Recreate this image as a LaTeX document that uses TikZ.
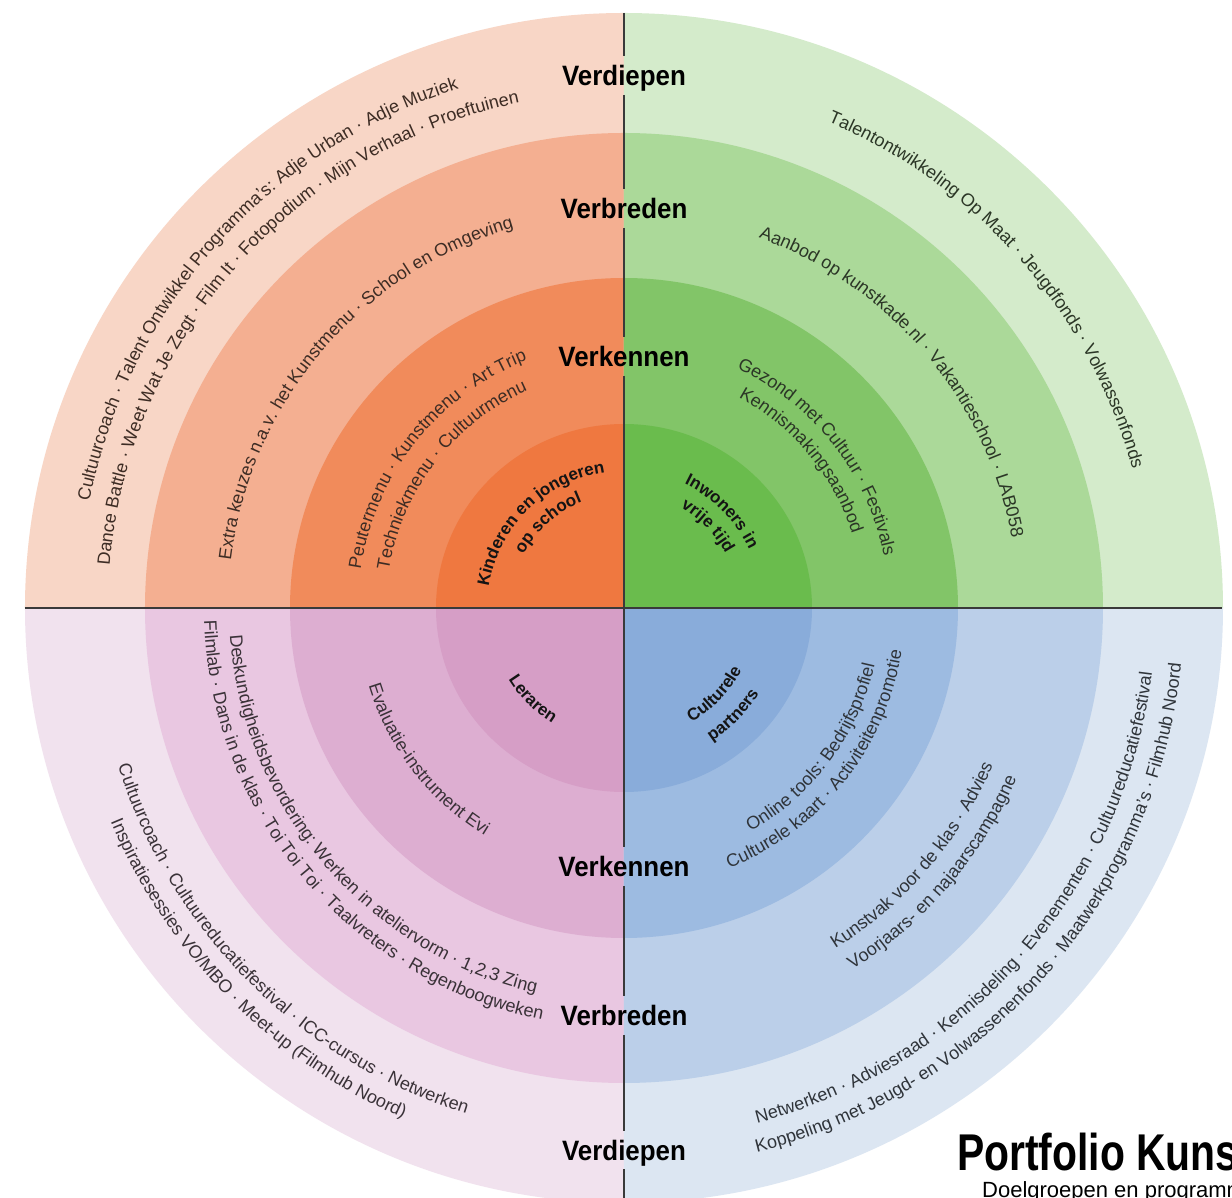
\documentclass[tikz,border=0pt]{standalone}
\usepackage{fontspec}
\setmainfont{Liberation Sans}
\newfontfamily\condfont[FakeStretch=0.925]{Liberation Sans}
\newfontfamily\titlecondfont[FakeStretch=0.79]{Liberation Sans}
\usetikzlibrary{decorations.text}

\definecolor{tlA}{HTML}{F8D6C6}\definecolor{tlB}{HTML}{F4AF91}\definecolor{tlC}{HTML}{F18B5B}\definecolor{tlD}{HTML}{EF7840}
\definecolor{trA}{HTML}{D4EBCB}\definecolor{trB}{HTML}{ABD999}\definecolor{trC}{HTML}{82C568}\definecolor{trD}{HTML}{6ABC4D}
\definecolor{blA}{HTML}{F1E2EE}\definecolor{blB}{HTML}{E9C7E1}\definecolor{blC}{HTML}{DDAED1}\definecolor{blD}{HTML}{D69EC6}
\definecolor{brA}{HTML}{DCE6F2}\definecolor{brB}{HTML}{BBCFE9}\definecolor{brC}{HTML}{9DBBE1}\definecolor{brD}{HTML}{89ACDA}
\definecolor{divline}{HTML}{3A3A3A}
\colorlet{txtTL}{black!75!tlB}
\colorlet{txtTR}{black!75!trB}
\colorlet{txtBL}{black!75!blB}
\colorlet{txtBR}{black!75!brB}
\colorlet{txtBold}{black!92}

\newcommand\rtxt{\fontsize{18}{20}\selectfont}
\newcommand\btxt{\fontsize{17}{20}\selectfont\bfseries}
\newcommand\labfont{\condfont\bfseries\fontsize{28}{30}\selectfont}

% clockwise arc text, tops outward: radius, centre angle, font, colour, text
\newcommand\cwline[5]{%
  \path[decorate,decoration={text along path,text align=center,text color=#4,text={|#3|#5}}]
    ({#2+50}:#1) arc[start angle={#2+50},end angle={#2-50},radius=#1];}
% counter-clockwise arc text, tops inward
\newcommand\ccwline[5]{%
  \path[decorate,decoration={text along path,text align=center,text color=#4,text={|#3|#5}}]
    ({#2-50}:#1) arc[start angle={#2-50},end angle={#2+50},radius=#1];}

\newcommand\ringquarter[6]{%
  \fill[#3] (0,0) -- (#1:599 and 595) arc[start angle=#1,end angle=#2,x radius=599,y radius=595] -- cycle;
  \fill[#4] (0,0) -- (#1:479 and 475) arc[start angle=#1,end angle=#2,x radius=479,y radius=475] -- cycle;
  \fill[#5] (0,0) -- (#1:334 and 330) arc[start angle=#1,end angle=#2,x radius=334,y radius=330] -- cycle;
  \fill[#6] (0,0) -- (#1:188 and 184) arc[start angle=#1,end angle=#2,x radius=188,y radius=184] -- cycle;}

\tikzset{
  lab/.style={font=\labfont,inner sep=0pt,outer xsep=0pt,outer ysep=9pt,text height=20.5pt,text depth=0pt,anchor=base,text=black},
  divider/.style={draw=divline,line width=1.5pt},
}

\begin{document}
\begin{tikzpicture}[x=1pt,y=1pt]
\useasboundingbox (-624,-590) rectangle (608,608);
\clip (-624,-590) rectangle (608,608);
\fill[white] (-624,-590) rectangle (608,608);

\ringquarter{90}{180}{tlA}{tlB}{tlC}{tlD}
\ringquarter{0}{90}{trA}{trB}{trC}{trD}
\ringquarter{180}{270}{blA}{blB}{blC}{blD}
\ringquarter{270}{360}{brA}{brB}{brC}{brD}

% top-left: Kinderen en jongeren op school
\cwline{545}{138.2}{\rtxt}{txtTL}{Cultuurcoach · Talent Ontwikkel Programma's: Adje Urban · Adje Muziek}
\cwline{516}{138.5}{\rtxt}{txtTL}{Dance Battle · Weet Wat Je Zegt · Film It · Fotopodium · Mijn Verhaal · Proeftuinen}
\cwline{396}{139.6}{\rtxt}{txtTL}{Extra keuzes n.a.v. het Kunstmenu · School en Omgeving}
\cwline{266}{141.5}{\rtxt}{txtTL}{Peutermenu · Kunstmenu · Art Trip}
\cwline{238}{142.4}{\rtxt}{txtTL}{Techniekmenu · Cultuurmenu}
\cwline{137}{134.5}{\btxt}{txtBold}{Kinderen en jongeren}
\cwline{114}{131.7}{\btxt}{txtBold}{op school}

% top-right: Inwoners in vrije tijd
\cwline{527}{41.25}{\rtxt}{txtTR}{Talentontwikkeling Op Maat · Jeugdfonds · Volwassenfonds}
\cwline{394}{40.1}{\rtxt}{txtTR}{Aanbod op kunstkade.nl · Vakantieschool · LAB058}
\cwline{265}{38}{\rtxt}{txtTR}{Gezond met Cultuur · Festivals}
\cwline{240}{39.75}{\rtxt}{txtTR}{Kennismakingsaanbod}
\cwline{138}{44.5}{\btxt}{txtBold}{Inwoners in}
\cwline{115}{44.3}{\btxt}{txtBold}{vrije tijd}

% bottom-left: Leraren
\ccwline{136}{225}{\btxt}{txtBold}{Leraren}
\ccwline{267}{217.75}{\rtxt}{txtBL}{Evaluatie-instrument Evi}
\ccwline{395}{220.5}{\rtxt}{txtBL}{Deskundigheidsbevordering: Werken in ateliervorm · 1,2,3 Zing}
\ccwline{420}{220.2}{\rtxt}{txtBL}{Filmlab · Dans in de klas · Toi Toi Toi · Taalvreters · Regenboogweken}
\ccwline{530}{225}{\rtxt}{txtBL}{Cultuurcoach · Cultuureducatiefestival · ICC-cursus · Netwerken}
\ccwline{556}{224.6}{\rtxt}{txtBL}{Inspiratiesessies VO/MBO · Meet-up (Filmhub Noord)}

% bottom-right: Culturele partners
\ccwline{133}{-43.6}{\btxt}{txtBold}{Culturele}
\ccwline{160}{-44.5}{\btxt}{txtBold}{partners}
\ccwline{257}{-36.6}{\rtxt}{txtBR}{Online tools: Bedrijfsprofiel}
\ccwline{281}{-38.4}{\rtxt}{txtBR}{Culturele kaart · Activiteitenpromotie}
\ccwline{401}{-40.6}{\rtxt}{txtBR}{Kunstvak voor de klas · Advies}
\ccwline{428}{-40.6}{\rtxt}{txtBR}{Voorjaars- en najaarscampagne}
\ccwline{532}{-41.25}{\rtxt}{txtBR}{Netwerken · Adviesraad · Kennisdeling · Evenementen · Cultuureducatiefestival}
\ccwline{560}{-41}{\rtxt}{txtBR}{Koppeling met Jeugd- en Volwassenenfonds · Maatwerkprogramma's · Filmhub Noord}

% level labels
\node[lab] (vd1) at (0,522) {Verdiepen};
\node[lab] (vb1) at (0,389) {Verbreden};
\node[lab] (vk1) at (0,241) {Verkennen};
\node[lab] (vk2) at (0,-269) {Verkennen};
\node[lab] (vb2) at (0,-418) {Verbreden};
\node[lab] (vd2) at (0,-552) {Verdiepen};

\coordinate (vtop) at (0,595);
\coordinate (vbot) at (0,-592);
\coordinate (hleft) at (-599,0);
\coordinate (hright) at (598,0);

\draw[divider] (hleft) -- (hright);
\draw[divider] (vtop) -- (vd1.north);
\draw[divider] (vd1.south) -- (vb1.north);
\draw[divider] (vb1.south) -- (vk1.north);
\draw[divider] (vk1.south) -- (vk2.north);
\draw[divider] (vk2.south) -- (vb2.north);
\draw[divider] (vb2.south) -- (vd2.north);
\draw[divider] (vd2.south) -- (vbot);

% title
\node[anchor=base west,inner sep=0pt,font=\titlecondfont\bfseries\fontsize{51.7}{55}\selectfont] (title) at (333,-562) {Portfolio Kunstkade};
\node[anchor=base west,inner sep=0pt,font=\fontsize{22}{24}\selectfont] (subtitle) at (358,-589) {Doelgroepen en programma's};
\end{tikzpicture}
\end{document}
